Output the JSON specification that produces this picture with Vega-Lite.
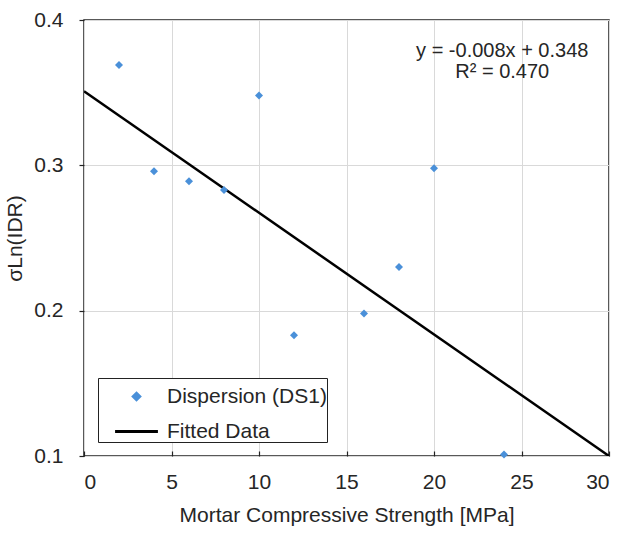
{
  "$schema": "https://vega.github.io/schema/vega-lite/v6.json",
  "width": 525,
  "height": 436,
  "autosize": {"type": "none"},
  "padding": {"left": 84, "top": 20, "right": 11, "bottom": 77},
  "background": "white",
  "config": {
    "font": "Liberation Sans",
    "view": {"stroke": "#222", "strokeWidth": 1.5},
    "axis": {
      "labelFont": "Liberation Sans",
      "titleFont": "Liberation Sans",
      "labelFontSize": 21,
      "titleFontSize": 21,
      "labelColor": "#262626",
      "titleColor": "#262626",
      "titleFontWeight": "normal",
      "gridColor": "#d9d9d9",
      "gridWidth": 1,
      "domain": false,
      "tickColor": "#222",
      "tickWidth": 1.2
    }
  },
  "datasets": {
    "pts": [
      {"x": 2, "y": 0.369, "series": "Dispersion (DS1)"},
      {"x": 4, "y": 0.296, "series": "Dispersion (DS1)"},
      {"x": 6, "y": 0.289, "series": "Dispersion (DS1)"},
      {"x": 8, "y": 0.283, "series": "Dispersion (DS1)"},
      {"x": 10, "y": 0.348, "series": "Dispersion (DS1)"},
      {"x": 12, "y": 0.183, "series": "Dispersion (DS1)"},
      {"x": 16, "y": 0.198, "series": "Dispersion (DS1)"},
      {"x": 18, "y": 0.230, "series": "Dispersion (DS1)"},
      {"x": 20, "y": 0.298, "series": "Dispersion (DS1)"},
      {"x": 24, "y": 0.101, "series": "Dispersion (DS1)"}
    ],
    "fit": [
      {"x": 0, "y": 0.351, "series": "Fitted Data"},
      {"x": 30, "y": 0.100, "series": "Fitted Data"}
    ],
    "eq": [
      {"x": 23.9, "y": 0.379, "label": "y = -0.008x + 0.348"},
      {"x": 23.9, "y": 0.364, "label": "R² = 0.470"}
    ]
  },
  "layer": [
    {
      "data": {"name": "fit"},
      "mark": {"type": "line", "strokeWidth": 2.5, "clip": true},
      "encoding": {
        "x": {"field": "x", "type": "quantitative", "scale": {"domain": [0, 30], "nice": false}, "axis": {"values": [0, 5, 10, 15, 20, 25, 30], "title": "Mortar Compressive Strength [MPa]", "tickSize": -5, "labelPadding": 20, "titlePadding": 12}},
        "y": {"field": "y", "type": "quantitative", "scale": {"domain": [0.1, 0.4], "nice": false, "zero": false}, "axis": {"values": [0.1, 0.2, 0.3, 0.4], "format": ".1f", "title": "σLn(IDR)", "tickSize": 5, "labelPadding": 16, "titlePadding": 8}},
        "color": {"field": "series", "type": "nominal", "scale": {"domain": ["Dispersion (DS1)", "Fitted Data"], "range": ["#4A90D9", "black"]},
          "legend": {
            "title": null,
            "orient": "bottom-left",
            "offset": 14,
            "strokeColor": "#222",
            "fillColor": "white",
            "padding": 0,
            "symbolOffset": 20,
            "labelFontSize": 21,
            "labelFont": "Liberation Sans",
            "labelColor": "#262626",
            "labelOffset": 12,
            "symbolSize": 1156,
            "rowPadding": 6,
            "encode": {
              "symbols": {"update": {
                "shape": {"signal": "datum.value === 'Fitted Data' ? 'M-1.26,0L1.26,0' : 'M0,-0.19L0.19,0L0,0.19L-0.19,0Z'"},
                "size": {"value": 1156},
                "fill": {"signal": "datum.value === 'Fitted Data' ? 'transparent' : '#4A90D9'"},
                "stroke": {"signal": "datum.value === 'Fitted Data' ? 'black' : 'transparent'"},
                "strokeWidth": {"value": 3}
              }}
            }
          }
        }
      }
    },
    {
      "data": {"name": "pts"},
      "mark": {"type": "point", "shape": "diamond", "filled": true, "size": 64, "opacity": 1},
      "encoding": {
        "x": {"field": "x", "type": "quantitative"},
        "y": {"field": "y", "type": "quantitative"},
        "color": {"field": "series", "type": "nominal"}
      }
    },
    {
      "data": {"name": "eq"},
      "mark": {"type": "text", "fontSize": 20, "font": "Liberation Sans", "color": "#262626", "align": "center", "baseline": "middle"},
      "encoding": {
        "x": {"field": "x", "type": "quantitative"},
        "y": {"field": "y", "type": "quantitative"},
        "text": {"field": "label"}
      }
    }
  ]
}
